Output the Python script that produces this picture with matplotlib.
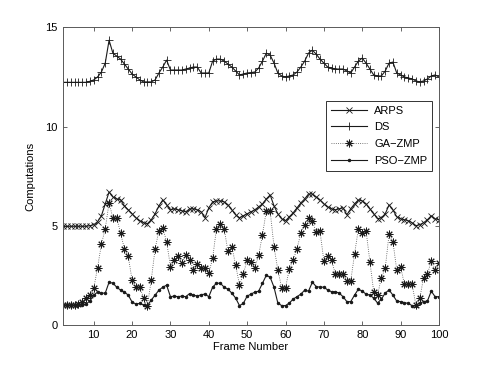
import numpy as np
import matplotlib
matplotlib.use("Agg")
import matplotlib.pyplot as plt

# frames 2..100
frames = np.arange(2, 101)

arps = [4.97, 4.97, 4.97, 4.97, 4.97, 4.97, 4.97, 5.0, 5.05, 5.2,
        5.5, 6.1, 6.7, 6.45, 6.35, 6.3, 6.0, 5.8, 5.6, 5.4,
        5.25, 5.15, 5.1, 5.3, 5.6, 6.0, 6.3, 6.05, 5.8, 5.85,
        5.8, 5.75, 5.7, 5.85, 5.85, 5.8, 5.7, 5.4, 5.9, 6.2,
        6.25, 6.25, 6.2, 6.05, 5.8, 5.55, 5.4, 5.5, 5.6, 5.7,
        5.8, 5.95, 6.1, 6.35, 6.55, 6.0, 5.6, 5.35, 5.25, 5.45,
        5.65, 5.9, 6.15, 6.35, 6.6, 6.6, 6.45, 6.3, 6.1, 5.95,
        5.85, 5.8, 5.85, 5.9, 5.55, 5.85, 6.1, 6.3, 6.25, 6.1,
        5.85, 5.6, 5.35, 5.4, 5.6, 6.05, 5.8, 5.45, 5.35, 5.3,
        5.25, 5.15, 5.0, 5.05, 5.15, 5.3, 5.5, 5.35, 5.3]

ds = [12.23, 12.23, 12.23, 12.23, 12.23, 12.23, 12.23, 12.28, 12.35, 12.5,
      12.75, 13.2, 14.35, 13.7, 13.55, 13.4, 13.15, 12.9, 12.65, 12.5,
      12.35, 12.25, 12.25, 12.25, 12.35, 12.7, 13.0, 13.35, 12.85, 12.85,
      12.85, 12.85, 12.9, 12.95, 13.0, 13.0, 12.7, 12.7, 12.7, 13.3,
      13.4, 13.4, 13.3, 13.15, 13.0, 12.8, 12.6, 12.65, 12.7, 12.72,
      12.75, 12.95, 13.3, 13.7, 13.6, 13.2, 12.7, 12.55, 12.5, 12.55,
      12.6, 12.75, 13.0, 13.3, 13.7, 13.85, 13.65, 13.4, 13.2, 13.0,
      12.95, 12.9, 12.9, 12.9, 12.8, 12.7, 13.0, 13.3, 13.45, 13.2,
      12.9, 12.6, 12.55, 12.55, 12.8, 13.2, 13.25, 12.7, 12.6, 12.5,
      12.45, 12.4, 12.3, 12.25, 12.3, 12.4, 12.55, 12.6, 12.5]

ga_zmp = [1.0, 1.0, 1.0, 1.0, 1.05, 1.17, 1.33, 1.5, 1.84, 2.89,
          4.07, 4.85, 6.15, 5.39, 5.39, 4.63, 3.83, 3.45, 2.26, 1.89,
          1.89, 1.37, 0.97, 2.26, 3.83, 4.75, 4.88, 4.2, 2.94, 3.28,
          3.45, 3.11, 3.53, 3.28, 2.77, 3.06, 2.89, 2.89, 2.6, 3.36,
          4.85, 5.08, 4.85, 3.7, 3.95, 3.02, 2.01, 2.55, 3.28, 3.16,
          2.89, 3.5, 4.55, 5.76, 5.73, 3.95, 2.77, 1.87, 1.87, 2.82,
          3.28, 3.83, 4.63, 5.05, 5.39, 5.22, 4.68, 4.71, 3.23, 3.45,
          3.28, 2.55, 2.55, 2.55, 2.21, 2.21, 3.56, 4.85, 4.63, 4.75,
          3.19, 1.67, 1.5, 2.38, 2.85, 4.58, 4.2, 2.77, 2.94, 2.04,
          2.04, 2.04, 1.0, 1.33, 2.38, 2.55, 3.23, 2.77, 3.11]

pso_zmp = [1.0, 1.0, 1.0, 1.0, 1.0, 1.0, 1.05, 1.2, 1.5, 1.65,
           1.6, 1.6, 2.15, 2.1, 1.9, 1.75, 1.65, 1.5, 1.15, 1.05,
           1.08, 1.0, 0.97, 1.25, 1.5, 1.75, 1.9, 2.0, 1.42, 1.45,
           1.42, 1.45, 1.42, 1.58, 1.5, 1.45, 1.52, 1.55, 1.42, 1.9,
           2.1, 2.1, 1.9, 1.8, 1.6, 1.35, 0.97, 1.08, 1.45, 1.55,
           1.65, 1.7, 2.1, 2.5, 2.4, 1.9, 1.1, 0.97, 0.97, 1.1,
           1.3, 1.42, 1.55, 1.75, 1.7, 2.15, 1.93, 1.9, 1.9, 1.76,
           1.67, 1.67, 1.6, 1.42, 1.17, 1.17, 1.5, 1.8, 1.7, 1.55,
           1.5, 1.35, 1.1, 1.3, 1.6, 1.76, 1.5, 1.2, 1.17, 1.12,
           1.08, 0.97, 0.97, 1.1, 1.17, 1.2, 1.7, 1.42, 1.42]

plt.rcParams['font.family'] = ['Liberation Sans', 'DejaVu Sans']
plt.rcParams['font.size'] = 8

fig = plt.figure(figsize=(4.85, 3.65), dpi=100)
ax = fig.add_axes([0.13, 0.11, 0.775, 0.815])

lc = '0.1'
ax.plot(frames, arps, color=lc, lw=0.8, marker='x', ms=4, mew=0.6, label='ARPS')
ax.plot(frames, ds, color=lc, lw=0.8, marker='+', ms=6, mew=0.6, label='DS')
# matlab style asterisk: 8 spokes
ax.plot(frames, ga_zmp, color='0.3', lw=0.6, ls=':', marker=(8, 2, 0), ms=5.5,
        mew=0.7, mec='0.1', label='GA\u2212ZMP')
ax.plot(frames, pso_zmp, color=lc, lw=0.8, marker='.', ms=3, label='PSO\u2212ZMP')

ax.set_xlim(2, 100)
ax.set_ylim(0, 15)
ax.set_xticks(np.arange(10, 101, 10))
ax.set_yticks([0, 5, 10, 15])
ax.tick_params(direction='in', top=True, right=True, length=3, width=0.6,
               colors='0.3', labelcolor='black', labelsize=8, pad=4)
for s in ax.spines.values():
    s.set_color('0.35')
    s.set_linewidth(0.7)

ax.set_xlabel('Frame Number', fontsize=8, labelpad=1)
ax.set_ylabel('Computations', fontsize=8, labelpad=7)

leg = ax.legend(loc='upper left', bbox_to_anchor=(0.699, 0.754), fancybox=False,
                edgecolor='0.2', framealpha=1, handlelength=3.3, handletextpad=0.6,
                borderpad=0.45, labelspacing=0.6, borderaxespad=0, fontsize=8)
leg.get_frame().set_linewidth(0.7)

fig.savefig('out.png', dpi=100)
